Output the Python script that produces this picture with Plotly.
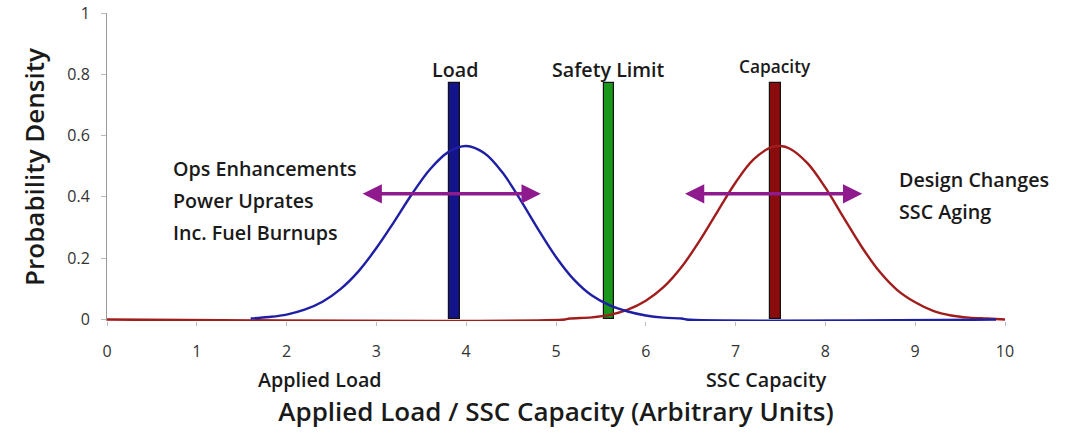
import plotly.graph_objects as go

# Load distribution (blue curve)
load_x = [1.6, 1.8, 2.0, 2.2, 2.4, 2.6, 2.8, 3.0, 3.2, 3.4, 3.6, 3.8, 4.0, 4.2, 4.4,
          4.6, 4.8, 5.0, 5.2, 5.4, 5.6, 5.8, 6.0, 6.2, 6.4, 6.45, 9.9]
load_y = [0.003, 0.008, 0.016, 0.032, 0.058, 0.099, 0.157, 0.233, 0.32, 0.411, 0.491, 0.546,
          0.566, 0.543, 0.481, 0.392, 0.295, 0.204, 0.13, 0.078, 0.046, 0.026, 0.013,
          0.006, 0.003, 0.0, 0.0]

# Capacity distribution (red curve)
cap_x = [0.0, 5.1, 5.15, 5.4, 5.6, 5.8, 6.0, 6.2, 6.4, 6.6, 6.8, 7.0, 7.2, 7.4, 7.5,
         7.6, 7.8, 8.0, 8.2, 8.4, 8.6, 8.8, 9.0, 9.2, 9.4, 9.6, 9.8, 10.0]
cap_y = [0.0, 0.0, 0.003, 0.007, 0.015, 0.032, 0.061, 0.106, 0.172, 0.257, 0.353, 0.447,
         0.522, 0.562, 0.566, 0.558, 0.51, 0.43, 0.334, 0.239, 0.157, 0.096, 0.056, 0.028,
         0.013, 0.006, 0.003, 0.0]

# Marker bars
bar_names = ["Load", "Safety Limit", "Capacity"]
bar_x = [3.87, 5.59, 7.44]
bar_h = [0.77, 0.77, 0.77]
bar_colors = ["#14148a", "#1a961a", "#8a0c0c"]

x_ticks = [0, 1, 2, 3, 4, 5, 6, 7, 8, 9, 10]
y_ticks = [0, 0.2, 0.4, 0.6, 0.8, 1]

FONT = "Open Sans"
TXT = "#1a1a1a"
W = 600  # semibold weight for labels
NOTE = 19.7

fig = go.Figure()
fig.add_trace(go.Scatter(x=cap_x, y=cap_y, mode="lines",
                         line=dict(color="#a11d1d", width=2.4, shape="spline", smoothing=1.0),
                         showlegend=False, hoverinfo="skip"))
fig.add_trace(go.Scatter(x=load_x, y=load_y, mode="lines",
                         line=dict(color="#1f1fa6", width=2.4, shape="spline", smoothing=1.0),
                         showlegend=False, hoverinfo="skip"))
fig.add_trace(go.Bar(x=bar_x, y=bar_h, width=0.12,
                     marker=dict(color=bar_colors, line=dict(color="#111111", width=1.2)),
                     showlegend=False, hoverinfo="skip"))

annotations = []
# Bar titles
for name, bx, bh in zip(bar_names, bar_x, bar_h):
    small = name == "Capacity"
    annotations.append(dict(x=bx, y=bh + (0.055 if small else 0.045), xref="x", yref="y", text=name,
                            showarrow=False, yanchor="middle",
                            font=dict(family=FONT, size=17.3 if small else NOTE, color=TXT, weight=W)))

# Double-headed shift arrows
for x0, x1 in [(2.83, 4.83), (6.42, 8.41)]:
    annotations.append(dict(x=x1, y=0.41, ax=x0, ay=0.41, xref="x", yref="y", axref="x", ayref="y",
                            text="", showarrow=True, arrowhead=2, startarrowhead=2, arrowside="end+start",
                            arrowsize=1.1, startarrowsize=1.1, arrowwidth=3.5, arrowcolor="#8e1a8e"))

# Side notes
left_notes = ["Ops Enhancements", "Power Uprates", "Inc. Fuel Burnups"]
for i, t in enumerate(left_notes):
    annotations.append(dict(x=0.71, y=0.492 - i * 0.104, xref="x", yref="y", text=t, showarrow=False,
                            xanchor="left", yanchor="middle",
                            font=dict(family=FONT, size=NOTE, color=TXT, weight=W)))
right_notes = ["Design Changes", "SSC Aging"]
for i, t in enumerate(right_notes):
    annotations.append(dict(x=8.8, y=0.456 - i * 0.104, xref="x", yref="y", text=t, showarrow=False,
                            xanchor="left", yanchor="middle",
                            font=dict(family=FONT, size=NOTE, color=TXT, weight=W)))

# Sub-labels under the x axis
for t, tx in [("Applied Load", 2.37), ("SSC Capacity", 7.34)]:
    annotations.append(dict(x=tx, y=-0.19, xref="x", yref="paper", text=t, showarrow=False,
                            yanchor="middle", font=dict(family=FONT, size=NOTE, color=TXT, weight=W)))

fig.update_layout(
    width=1076, height=434,
    margin=dict(l=107, r=71, t=13, b=113),
    paper_bgcolor="white", plot_bgcolor="white",
    font=dict(family=FONT, color="#333333"),
    annotations=annotations,
    bargap=0,
)
fig.update_xaxes(range=[0, 10], tickvals=x_ticks, ticks="outside", ticklen=4, tickcolor="#bbbbbb",
                 showline=False, showgrid=False, zeroline=False,
                 automargin=False,
                 tickfont=dict(family=FONT, size=16, color="#333333"), ticklabelstandoff=12,
                 title=dict(text="Applied Load / SSC Capacity (Arbitrary Units)", standoff=41,
                            font=dict(family=FONT, size=26, color=TXT, weight=W)))
# small negative floor keeps the zero-level lines fully visible
fig.update_yaxes(range=[-0.005, 1], tickvals=y_ticks, ticktext=["0", "0.2", "0.4", "0.6", "0.8", "1"],
                 ticks="outside", ticklen=5, tickcolor="#bbbbbb",
                 showline=True, linecolor="#999999", linewidth=1, showgrid=False, zeroline=False,
                 automargin=False,
                 tickfont=dict(family=FONT, size=16, color="#333333"), ticklabelstandoff=8,
                 title=dict(text="Probability Density", standoff=15,
                            font=dict(family=FONT, size=26, color=TXT, weight=W)))

fig.write_html("out.html")
